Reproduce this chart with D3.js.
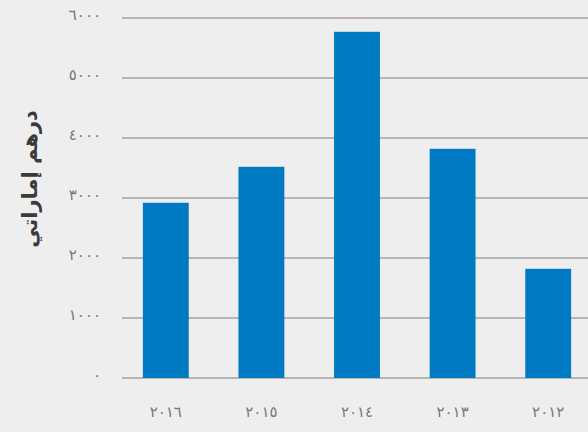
<!DOCTYPE html>
<html>
<head>
<meta charset="utf-8">
<script src="https://d3js.org/d3.v7.min.js" charset="utf-8"></script>
<style>
  body { margin: 0; background: #eeeeee; }
  svg { display: block; }
</style>
</head>
<body>
<svg id="chart" width="588" height="432"></svg>
<script>
const years = ["٢٠١٦", "٢٠١٥", "٢٠١٤", "٢٠١٣", "٢٠١٢"];
const values = [2920, 3520, 5770, 3820, 1820];
const yTicks = [0, 1000, 2000, 3000, 4000, 5000, 6000];
const yTickLabels = ["٠", "١٠٠٠", "٢٠٠٠", "٣٠٠٠", "٤٠٠٠", "٥٠٠٠", "٦٠٠٠"];
const yTitle = "درهم إماراتي";

const svg = d3.select("#chart");
const font = "'DejaVu Sans', sans-serif";

svg.append("rect").attr("width", 588).attr("height", 432).attr("fill", "#eeeeee");

const x = d3.scaleBand()
    .domain(years)
    .range([118, 596])
    .paddingInner(0.52)
    .paddingOuter(0.26);

const y = d3.scaleLinear()
    .domain([0, 6000])
    .range([378, 18]);

// gridlines
svg.append("g")
    .selectAll("line")
    .data(yTicks)
    .enter()
    .append("line")
    .attr("x1", 122)
    .attr("x2", 588)
    .attr("y1", d => y(d))
    .attr("y2", d => y(d))
    .attr("stroke", "#b6b6b6")
    .attr("stroke-width", 2);

// y tick labels
svg.append("g")
    .selectAll("text")
    .data(yTicks)
    .enter()
    .append("text")
    .attr("x", 101)
    .attr("y", d => y(d))
    .attr("dy", "0.1em")
    .attr("text-anchor", "end")
    .attr("direction", "ltr")
    .attr("font-family", font)
    .attr("font-size", 15)
    .attr("fill", "#777777")
    .text((d, i) => yTickLabels[i]);

// bars
svg.append("g")
    .selectAll("rect")
    .data(values)
    .enter()
    .append("rect")
    .attr("x", (d, i) => x(years[i]))
    .attr("width", x.bandwidth())
    .attr("y", d => y(d))
    .attr("height", d => y(0) - y(d))
    .attr("fill", "#007ac2");

// x labels
svg.append("g")
    .selectAll("text")
    .data(years)
    .enter()
    .append("text")
    .attr("x", d => x(d) + x.bandwidth() / 2)
    .attr("y", 417)
    .attr("text-anchor", "middle")
    .attr("direction", "ltr")
    .attr("font-family", font)
    .attr("font-size", 15)
    .attr("fill", "#777777")
    .text(d => d);

// y axis title
svg.append("text")
    .attr("transform", "translate(30, 179) rotate(-90)")
    .attr("text-anchor", "middle")
    .attr("dy", "0.35em")
    .attr("font-family", font)
    .attr("font-size", 21)
    .attr("font-weight", "bold")
    .attr("fill", "#3a3a3a")
    .text(yTitle);
</script>
</body>
</html>
